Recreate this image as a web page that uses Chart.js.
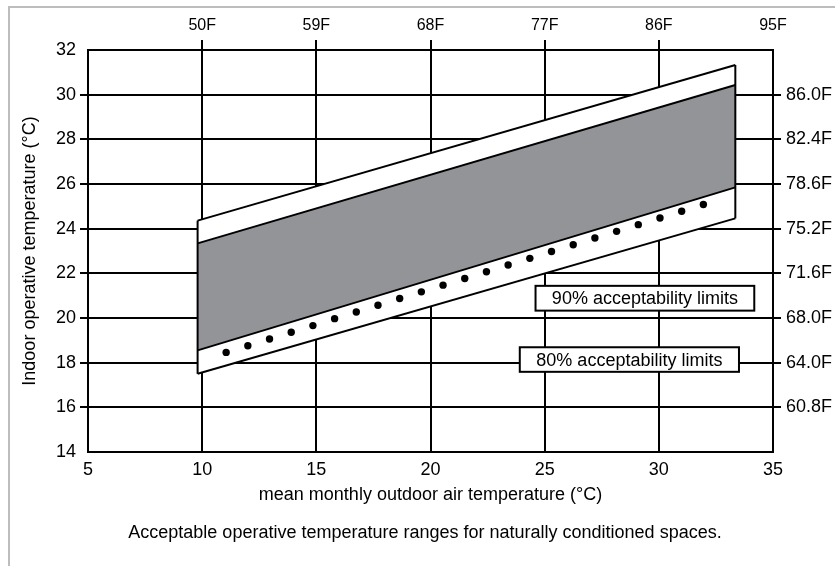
<!DOCTYPE html>
<html lang="en">
<head>
    <meta charset="UTF-8">
    <title>Acceptable operative temperature ranges</title>
    <script src="https://cdn.jsdelivr.net/npm/chart.js"></script>
    <style>
        html, body { margin: 0; padding: 0; background: #fff; overflow: hidden; }
        #frame {
            position: absolute; left: 8px; top: 6px; width: 840px; height: 570px;
            border-top: 2px solid #bdbdbd; border-left: 2px solid #bdbdbd;
        }
        #wrap { position: absolute; left: 0; top: 0; width: 835px; height: 566px; }
        #caption {
            position: absolute; left: 0; top: 521px; width: 850px;
            text-align: center; white-space: nowrap;
            font: 18px "Liberation Sans", Arial, Helvetica, sans-serif; line-height: 22px; color: #000;
        }
    </style>
</head>
<body>
    <div id="frame"></div>
    <div id="wrap"><canvas id="comfortChart"></canvas></div>
    <div id="caption">Acceptable operative temperature ranges for naturally conditioned spaces.</div>

    <script>
        // tick labels
        const xTicksC = [5, 10, 15, 20, 25, 30, 35];
        const xTicksF = ['', '50F', '59F', '68F', '77F', '86F', '95F'];
        const yTicksC = [14, 16, 18, 20, 22, 24, 26, 28, 30, 32];
        const yTicksF = ['', '60.8F', '64.0F', '68.0F', '71.6F', '75.2F', '78.6F', '82.4F', '86.0F', ''];

        // band limits, read at the left and right edge of the band
        const bandX = [9.8, 33.35];
        const upper80 = [24.36, 31.33];
        const upper90 = [23.34, 30.43];
        const lower90 = [18.55, 25.85];
        const lower80 = [17.5, 24.46];

        // dotted line
        const dotX = [11.05, 12.0, 12.95, 13.9, 14.85, 15.8, 16.75, 17.7, 18.65, 19.6, 20.55, 21.5,
                      22.45, 23.4, 24.35, 25.3, 26.25, 27.2, 28.15, 29.1, 30.05, 31.0, 31.95];
        const dotY = [18.46, 18.76, 19.06, 19.36, 19.66, 19.97, 20.27, 20.57, 20.87, 21.17, 21.47, 21.77,
                      22.07, 22.37, 22.67, 22.98, 23.28, 23.58, 23.88, 24.18, 24.48, 24.78, 25.08];

        const labelBoxes = [
            { text: '90% acceptability limits', x0: 24.6, x1: 34.18, y0: 21.44, y1: 20.33 },
            { text: '80% acceptability limits', x0: 23.91, x1: 33.51, y0: 18.69, y1: 17.59 }
        ];

        const FONT = '"Liberation Sans", Arial, Helvetica, sans-serif';
        const GRAY = '#939498';

        function pts(xs, ys) {
            return xs.map((x, i) => ({ x: x, y: ys[i] }));
        }
        function inner(v, lo, hi) {
            return v > lo && v < hi ? '#000' : 'rgba(0,0,0,0)';
        }
        const edge = { showLine: true, pointRadius: 0, borderColor: '#000', borderWidth: 2, fill: false };

        // boxes with text
        const boxPlugin = {
            id: 'boxes',
            afterDatasetsDraw(chart) {
                const c = chart.ctx, sx = chart.scales.x, sy = chart.scales.y;
                c.save();
                labelBoxes.forEach(b => {
                    const l = sx.getPixelForValue(b.x0), r = sx.getPixelForValue(b.x1);
                    const t = sy.getPixelForValue(b.y0), btm = sy.getPixelForValue(b.y1);
                    c.fillStyle = '#fff';
                    c.fillRect(l, t, r - l, btm - t);
                    c.strokeStyle = '#000';
                    c.lineWidth = 2;
                    c.strokeRect(l, t, r - l, btm - t);
                    c.fillStyle = '#000';
                    c.font = '18px ' + FONT;
                    c.textAlign = 'center';
                    c.textBaseline = 'middle';
                    c.fillText(b.text, (l + r) / 2, (t + btm) / 2 + 1);
                });
                c.restore();
            }
        };

        new Chart('comfortChart', {
            type: 'scatter',
            data: {
                datasets: [
                    { data: pts(dotX, dotY), pointRadius: 3.7, pointBackgroundColor: '#000', pointBorderWidth: 0, showLine: false },
                    Object.assign({}, edge, { data: pts(bandX, upper90), fill: 2, backgroundColor: GRAY }),
                    Object.assign({}, edge, { data: pts(bandX, lower90) }),
                    Object.assign({}, edge, { data: pts(bandX, upper80), fill: 4, backgroundColor: '#fff' }),
                    Object.assign({}, edge, { data: pts(bandX, lower80) }),
                    Object.assign({}, edge, { data: [{ x: bandX[0], y: lower80[0] }, { x: bandX[0], y: upper80[0] }] }),
                    Object.assign({}, edge, { data: [{ x: bandX[1], y: lower80[1] }, { x: bandX[1], y: upper80[1] }] })
                ]
            },
            options: {
                responsive: true,
                maintainAspectRatio: false,
                animation: false,
                layout: { padding: { left: 0, right: 0, top: 0, bottom: 60 } },
                plugins: {
                    legend: { display: false },
                    tooltip: { enabled: false },
                    filler: { drawTime: 'beforeDatasetsDraw' }
                },
                scales: {
                    x: {
                        position: 'bottom',
                        min: 5, max: 35,
                        afterBuildTicks: s => { s.ticks = xTicksC.map(v => ({ value: v })); },
                        afterFit: s => { s.height = 54; },
                        border: { color: '#000', width: 2 },
                        grid: { color: c => inner(c.tick.value, 5, 35), lineWidth: 2, drawTicks: false },
                        ticks: { color: '#000', padding: 7, maxRotation: 0, font: { family: FONT, size: 18 } },
                        title: { display: true, text: 'mean monthly outdoor air temperature (°C)', color: '#000',
                                 padding: 0, font: { family: FONT, size: 18 } }
                    },
                    xTop: {
                        position: 'top',
                        min: 5, max: 35,
                        afterBuildTicks: s => { s.ticks = xTicksC.map(v => ({ value: v })); },
                        afterFit: s => { s.height = 50; },
                        border: { color: '#000', width: 2 },
                        grid: { color: c => inner(c.tick.value, 5, 35), lineWidth: 2, drawOnChartArea: false, tickLength: 10 },
                        ticks: { color: '#000', padding: 5, maxRotation: 0, font: { family: FONT, size: 16 },
                                 callback: v => xTicksF[xTicksC.indexOf(v)] }
                    },
                    y: {
                        position: 'left',
                        min: 14, max: 32,
                        afterBuildTicks: s => { s.ticks = yTicksC.map(v => ({ value: v })); },
                        afterFit: s => { s.width = 88; },
                        border: { color: '#000', width: 2 },
                        grid: { color: c => inner(c.tick.value, 14, 32), lineWidth: 2, tickLength: 8 },
                        ticks: { color: '#000', padding: 4, font: { family: FONT, size: 18 } },
                        title: { display: true, text: 'Indoor operative temperature (°C)', color: '#000',
                                 padding: { top: 19, bottom: 0 }, font: { family: FONT, size: 18 } }
                    },
                    yRight: {
                        position: 'right',
                        min: 14, max: 32,
                        afterBuildTicks: s => { s.ticks = yTicksC.map(v => ({ value: v })); },
                        afterFit: s => { s.width = 62; },
                        border: { color: '#000', width: 2 },
                        grid: { color: c => inner(c.tick.value, 14, 32), lineWidth: 2, drawOnChartArea: false, tickLength: 8 },
                        ticks: { color: '#000', padding: 5, font: { family: FONT, size: 18 },
                                 callback: v => yTicksF[yTicksC.indexOf(v)] }
                    }
                }
            },
            plugins: [boxPlugin]
        });
    </script>
</body>
</html>
